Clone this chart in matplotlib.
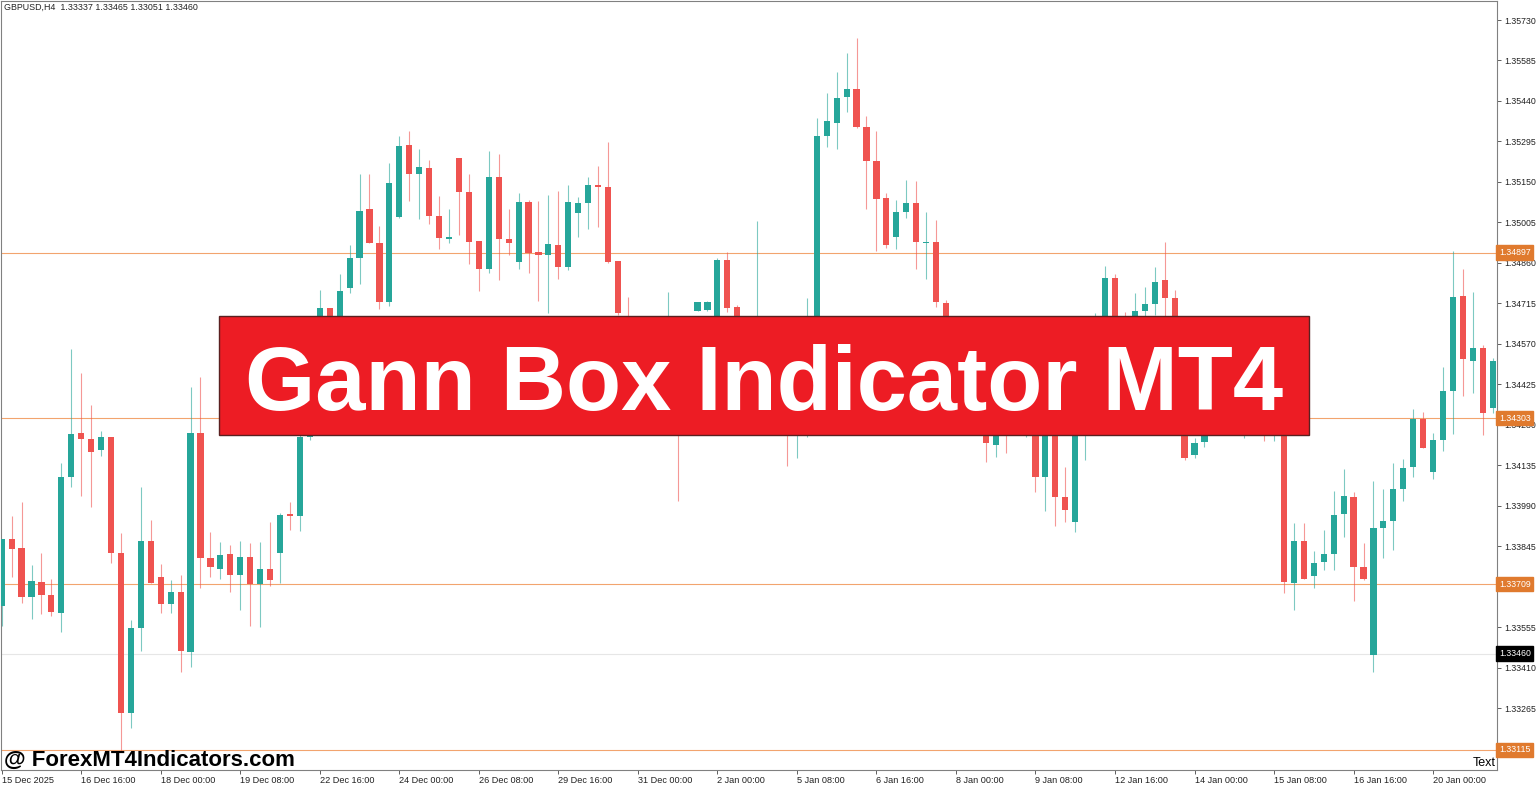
import matplotlib
matplotlib.use("Agg")
import matplotlib.pyplot as plt
import matplotlib.patches as patches
import numpy as np

# GBPUSD H4 candles (open, high, low, close)
opens = [1.33631, 1.33871, 1.33839, 1.33663, 1.33717, 1.33670, 1.33606, 1.34093, 1.34251, 1.34229,
         1.34190, 1.34236, 1.33821, 1.33247, 1.33552, 1.33864, 1.33735, 1.33638, 1.33681, 1.33466,
         1.34251, 1.33803, 1.33763, 1.33817, 1.33742, 1.33806, 1.33710, 1.33763, 1.33821, 1.33960,
         1.33953, 1.34236, 1.34279, 1.34699, 1.34620, 1.34770, 1.34878, 1.35053, 1.34931, 1.34720,
         1.35025, 1.35283, 1.35179, 1.35200, 1.35028, 1.34946, 1.35236, 1.35114, 1.34939, 1.34838,
         1.35168, 1.34946, 1.34863, 1.35078, 1.34899, 1.34888, 1.34924, 1.34845, 1.35039, 1.35075,
         1.35139, 1.35132, 1.34867, 1.34663, 1.34505, 1.34548, 1.34476, 1.34398, 1.34566, 1.34315,
         1.34688, 1.34692, 1.34638, 1.34870, 1.34702, 1.34566, 1.34620, 1.34656, 1.34566, 1.34469,
         1.34297, 1.34369, 1.34405, 1.35315, 1.35361, 1.35454, 1.35483, 1.35347, 1.35225, 1.35093,
         1.34953, 1.35042, 1.35075, 1.34931, 1.34935, 1.34716, 1.34548, 1.34441, 1.34494, 1.34315,
         1.34208, 1.34279, 1.34254, 1.34261, 1.34279, 1.34093, 1.34279, 1.34021, 1.33932, 1.34261,
         1.34369, 1.34512, 1.34806, 1.34602, 1.34548, 1.34688, 1.34713, 1.34799, 1.34734, 1.34387,
         1.34172, 1.34218, 1.34279, 1.34254, 1.34283, 1.34261, 1.34290, 1.34269, 1.34254, 1.34279,
         1.33713, 1.33864, 1.33738, 1.33788, 1.33817, 1.33960, 1.34021, 1.33771, 1.33455, 1.33910,
         1.33935, 1.34050, 1.34129, 1.34301, 1.34111, 1.34226, 1.34401, 1.34741, 1.34509, 1.34555,
         1.34340]
highs = [1.33871, 1.33953, 1.34003, 1.33778, 1.33821, 1.33728, 1.34143, 1.34552, 1.34466, 1.34351,
         1.34258, 1.34236, 1.33892, 1.33581, 1.34057, 1.33939, 1.33781, 1.33724, 1.33742, 1.34415,
         1.34451, 1.33896, 1.33860, 1.33849, 1.33864, 1.33857, 1.33860, 1.33932, 1.33964, 1.34003,
         1.34243, 1.34304, 1.34763, 1.34699, 1.34820, 1.34924, 1.35179, 1.35179, 1.34992, 1.35218,
         1.35315, 1.35333, 1.35268, 1.35229, 1.35100, 1.35053, 1.35236, 1.35179, 1.34939, 1.35261,
         1.35250, 1.35053, 1.35111, 1.35085, 1.35082, 1.35103, 1.35118, 1.35139, 1.35096, 1.35168,
         1.35207, 1.35293, 1.34867, 1.34738, 1.34577, 1.34566, 1.34512, 1.34756, 1.34602, 1.34663,
         1.34720, 1.34722, 1.34878, 1.34899, 1.34709, 1.34648, 1.35010, 1.34663, 1.34602, 1.34512,
         1.34405, 1.34734, 1.35379, 1.35469, 1.35544, 1.35612, 1.35666, 1.35386, 1.35333, 1.35111,
         1.35085, 1.35157, 1.35154, 1.35042, 1.35014, 1.34727, 1.34584, 1.34530, 1.34512, 1.34351,
         1.34315, 1.34333, 1.34315, 1.34333, 1.34315, 1.34297, 1.34304, 1.34129, 1.34333, 1.34405,
         1.34681, 1.34849, 1.34820, 1.34684, 1.34752, 1.34774, 1.34845, 1.34935, 1.34763, 1.34423,
         1.34233, 1.34315, 1.34304, 1.34315, 1.34326, 1.34315, 1.34333, 1.34304, 1.34308, 1.34315,
         1.33928, 1.33928, 1.33828, 1.33903, 1.34043, 1.34122, 1.34039, 1.33857, 1.34079, 1.34050,
         1.34143, 1.34157, 1.34337, 1.34326, 1.34251, 1.34487, 1.34903, 1.34838, 1.34756, 1.34566,
         1.34519]
lows = [1.33559, 1.33735, 1.33642, 1.33584, 1.33602, 1.33595, 1.33538, 1.34057, 1.34025, 1.33986,
        1.34168, 1.33785, 1.33111, 1.33194, 1.33470, 1.33713, 1.33606, 1.33606, 1.33394, 1.33412,
        1.33695, 1.33735, 1.33728, 1.33681, 1.33616, 1.33559, 1.33556, 1.33702, 1.33713, 1.33903,
        1.33900, 1.34226, 1.34261, 1.34584, 1.34602, 1.34752, 1.34784, 1.34931, 1.34695, 1.34706,
        1.35021, 1.35082, 1.35017, 1.34999, 1.34910, 1.34931, 1.34960, 1.34856, 1.34759, 1.34824,
        1.34799, 1.34888, 1.34838, 1.34824, 1.34724, 1.34681, 1.34802, 1.34835, 1.34953, 1.34982,
        1.34989, 1.34860, 1.34673, 1.34469, 1.34448, 1.34419, 1.34376, 1.34369, 1.34007, 1.34279,
        1.34688, 1.34688, 1.34620, 1.34684, 1.34541, 1.34512, 1.34530, 1.34512, 1.34433, 1.34132,
        1.34161, 1.34236, 1.34387, 1.35275, 1.35268, 1.35401, 1.35343, 1.35053, 1.34903, 1.34913,
        1.34910, 1.35021, 1.34838, 1.34802, 1.34702, 1.34512, 1.34387, 1.34369, 1.34297, 1.34147,
        1.34165, 1.34179, 1.34247, 1.34236, 1.34039, 1.33971, 1.33917, 1.33932, 1.33896, 1.34154,
        1.34351, 1.34494, 1.34566, 1.34512, 1.34530, 1.34670, 1.34673, 1.34670, 1.34369, 1.34154,
        1.34161, 1.34200, 1.34247, 1.34247, 1.34247, 1.34233, 1.34251, 1.34222, 1.34222, 1.33677,
        1.33616, 1.33728, 1.33695, 1.33760, 1.33760, 1.33878, 1.33649, 1.33724, 1.33394, 1.33803,
        1.33831, 1.34007, 1.34093, 1.34197, 1.34086, 1.34186, 1.34247, 1.34383, 1.34394, 1.34243,
        1.34322]
closes = [1.33871, 1.33835, 1.33663, 1.33720, 1.33670, 1.33609, 1.34093, 1.34247, 1.34229, 1.34183,
          1.34236, 1.33821, 1.33247, 1.33552, 1.33864, 1.33713, 1.33638, 1.33681, 1.33470, 1.34251,
          1.33803, 1.33771, 1.33814, 1.33742, 1.33806, 1.33710, 1.33763, 1.33724, 1.33957, 1.33953,
          1.34236, 1.34279, 1.34699, 1.34620, 1.34759, 1.34878, 1.35046, 1.34931, 1.34720, 1.35146,
          1.35279, 1.35179, 1.35204, 1.35028, 1.34949, 1.34953, 1.35114, 1.34935, 1.34838, 1.35168,
          1.34946, 1.34931, 1.35078, 1.34896, 1.34888, 1.34928, 1.34845, 1.35078, 1.35075, 1.35139,
          1.35132, 1.34863, 1.34681, 1.34505, 1.34548, 1.34476, 1.34398, 1.34566, 1.34315, 1.34663,
          1.34720, 1.34718, 1.34870, 1.34699, 1.34566, 1.34620, 1.34656, 1.34566, 1.34469, 1.34297,
          1.34369, 1.34405, 1.35315, 1.35368, 1.35451, 1.35483, 1.35347, 1.35225, 1.35089, 1.34924,
          1.35042, 1.35075, 1.34935, 1.34935, 1.34720, 1.34548, 1.34441, 1.34494, 1.34315, 1.34215,
          1.34279, 1.34254, 1.34269, 1.34297, 1.34093, 1.34279, 1.34021, 1.33975, 1.34297, 1.34369,
          1.34512, 1.34806, 1.34602, 1.34548, 1.34688, 1.34713, 1.34792, 1.34734, 1.34387, 1.34161,
          1.34215, 1.34279, 1.34254, 1.34283, 1.34261, 1.34290, 1.34269, 1.34254, 1.34279, 1.33717,
          1.33864, 1.33728, 1.33785, 1.33817, 1.33957, 1.34025, 1.33771, 1.33728, 1.33910, 1.33935,
          1.34050, 1.34125, 1.34301, 1.34197, 1.34226, 1.34401, 1.34738, 1.34516, 1.34555, 1.34322,
          1.34509]

# time labels every 8 bars
date_labels = ["15 Dec 2025", "16 Dec 16:00", "18 Dec 00:00", "19 Dec 08:00", "22 Dec 16:00",
               "24 Dec 00:00", "26 Dec 08:00", "29 Dec 16:00", "31 Dec 00:00", "2 Jan 00:00",
               "5 Jan 08:00", "6 Jan 16:00", "8 Jan 00:00", "9 Jan 08:00", "12 Jan 16:00",
               "14 Jan 00:00", "15 Jan 08:00", "16 Jan 16:00", "20 Jan 00:00"]
label_step = 8

# price scale ticks (1.33700 sits under the 1.33709 level box, so only its tick mark shows)
price_ticks = [1.35730, 1.35585, 1.35440, 1.35295, 1.35150, 1.35005, 1.34860, 1.34715, 1.34570,
               1.34425, 1.34280, 1.34135, 1.33990, 1.33845, 1.33700, 1.33555, 1.33410, 1.33265]
hidden_ticks = [1.33700]

# gann box levels and current bid
box_levels = [1.34897, 1.34303, 1.33709, 1.33115]
bid_price = 1.33460

UP = "#26a69a"
DOWN = "#ef5350"
LEVEL = "#f2a46e"
LEVEL_BOX = "#e07a2e"
AXIS_FONT = "Liberation Sans"

o = np.array(opens)
h = np.array(highs)
l = np.array(lows)
c = np.array(closes)
x = np.arange(len(o))
up = c >= o
colors = np.where(up, UP, DOWN)

fig = plt.figure(figsize=(15.36, 7.85), dpi=100)
ax = fig.add_axes([1 / 1536, 15 / 785, 1496 / 1536, 769 / 785])

# candles
ax.vlines(x, l, h, colors=colors, linewidth=0.8, alpha=0.6, zorder=2)
body = np.maximum(np.abs(c - o), 0.00003)
ax.bar(x, body, bottom=np.minimum(o, c), width=0.62, color=colors, linewidth=0, zorder=3)

# levels
for lv in box_levels:
    ax.axhline(lv, color=LEVEL, linewidth=0.8, zorder=1)
ax.axhline(bid_price, color="#e6e6e6", linewidth=0.8, zorder=1)

ax.set_xlim(-0.07, 150.43)
ax.set_ylim(1.330429, 1.357981)

# axes style
for side in ["left", "right", "top", "bottom"]:
    ax.spines[side].set_color("#808080")
    ax.spines[side].set_linewidth(0.8)
ax.yaxis.tick_right()
ax.set_yticks(price_ticks)
ax.set_yticklabels(["" if p in hidden_ticks else f"{p:.5f}" for p in price_ticks],
                   fontsize=6.3, color="#222222", family=AXIS_FONT)
ax.tick_params(axis="y", length=3, width=0.6, pad=2, colors="#444444", labelcolor="#222222")

ax.set_xticks(np.arange(len(date_labels)) * label_step)
ax.set_xticklabels(date_labels, fontsize=6.6, color="#222222", family=AXIS_FONT)
ax.tick_params(axis="x", length=3, width=0.6, pad=1, colors="#444444", labelcolor="#222222")
for lab in ax.get_xticklabels():
    lab.set_horizontalalignment("left")

# price labels on the right scale
ytr = ax.get_yaxis_transform()
for lv in box_levels:
    ax.text(1.0012, lv, f"{lv:.5f}", transform=ytr, fontsize=6.3, family=AXIS_FONT,
            color="white", va="center", ha="left", clip_on=False, zorder=10,
            bbox=dict(facecolor=LEVEL_BOX, edgecolor=LEVEL_BOX, boxstyle="square,pad=0.3"))
ax.text(1.0012, bid_price, f"{bid_price:.5f}", transform=ytr, fontsize=6.3, family=AXIS_FONT,
        color="white", va="center", ha="left", clip_on=False, zorder=10,
        bbox=dict(facecolor="black", edgecolor="black", boxstyle="square,pad=0.3"))

# header and small texts
fig.text(4 / 1536, 1 - 7 / 785, "GBPUSD,H4  1.33337 1.33465 1.33051 1.33460", fontsize=6.4,
         family=AXIS_FONT, color="#222222", va="center", ha="left")
fig.text(1496 / 1536, 1 - 763 / 785, "Text", fontsize=9, family=AXIS_FONT, color="black",
         va="center", ha="right")

# banner
banner = patches.Rectangle((219 / 1536, 1 - 435 / 785), 1090 / 1536, 119 / 785,
                           transform=fig.transFigure, facecolor="#ed1c24", edgecolor="#5a2020",
                           linewidth=1, zorder=20)
fig.add_artist(banner)
fig.text(764 / 1536, 1 - 410 / 785, "Gann Box Indicator MT4", fontsize=65, fontweight="bold",
         family="Liberation Sans", color="white", ha="center", va="baseline", zorder=21)

# watermark
fig.text(4 / 1536, 1 - 760 / 785, "@ ForexMT4Indicators.com", fontsize=16, fontweight="bold",
         family="Liberation Sans", color="black", ha="left", va="center", zorder=21)

fig.savefig("out.png", dpi=100, facecolor="white")
